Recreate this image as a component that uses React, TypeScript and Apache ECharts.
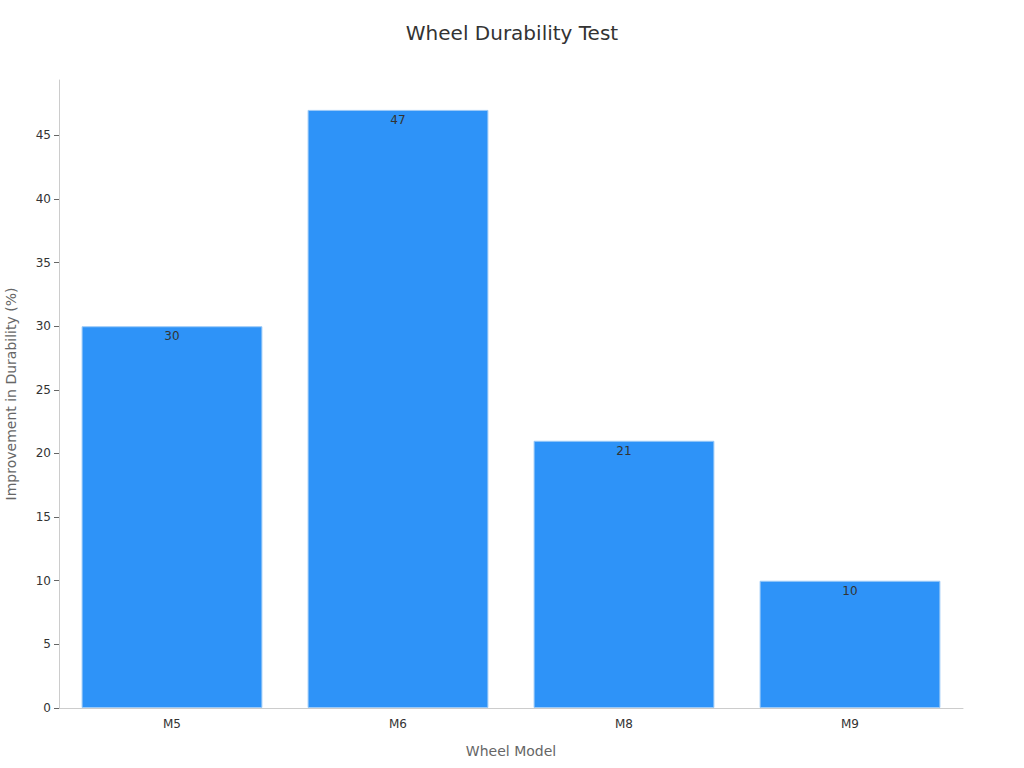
import { useEffect, useRef } from "react";
import * as echarts from "echarts";

const categories = ["M5", "M6", "M8", "M9"];
const improvement = [30, 47, 21, 10];
const yTicks = [0, 5, 10, 15, 20, 25, 30, 35, 40, 45];

const FONT = "'DejaVu Sans', sans-serif";

export default function App() {
  const ref = useRef<HTMLDivElement | null>(null);

  useEffect(() => {
    if (!ref.current) return;
    const chart = echarts.init(ref.current, null, { renderer: "svg" });

    chart.setOption({
      animation: false,
      textStyle: { fontFamily: FONT },
      title: {
        text: "Wheel Durability Test",
        left: "center",
        top: 18,
        textStyle: { fontFamily: FONT, fontSize: 20, fontWeight: "normal", color: "#333" },
      },
      grid: { left: 59, right: 61, top: 80, bottom: 60, outerBoundsMode: "none", containLabel: false },
      xAxis: {
        type: "category",
        data: categories,
        name: "Wheel Model",
        nameLocation: "middle",
        nameGap: 36,
        nameTextStyle: { fontFamily: FONT, fontSize: 14, color: "#666" },
        axisLine: { lineStyle: { color: "#ccc" } },
        axisTick: { alignWithLabel: true, length: 5, lineStyle: { color: "#999" } },
        axisLabel: { fontFamily: FONT, fontSize: 12, color: "#333", margin: 10 },
      },
      yAxis: {
        type: "value",
        min: 0,
        max: Math.max(...improvement) * 1.05,
        interval: 5,
        name: "Improvement in Durability (%)",
        nameLocation: "middle",
        nameGap: 41,
        nameTextStyle: { fontFamily: FONT, fontSize: 14, color: "#666" },
        axisLine: { show: true, lineStyle: { color: "#ccc" } },
        axisTick: { show: true, length: 5, lineStyle: { color: "#666" }, customValues: yTicks },
        axisLabel: { fontFamily: FONT, fontSize: 12, color: "#333", margin: 8, customValues: yTicks },
        splitLine: { show: false },
      },
      series: [
        {
          type: "bar",
          data: improvement,
          barWidth: "80%",
          itemStyle: { color: "#2E93F8", borderColor: "#9ccaf7", borderWidth: 1 },
          label: {
            show: true,
            position: "insideTop",
            distance: 4,
            color: "#333",
            fontFamily: FONT,
            fontSize: 12,
          },
        },
      ],
    });

    return () => chart.dispose();
  }, []);

  return (
    <div
      ref={ref}
      style={{ position: "absolute", left: 0, top: 0, width: 1024, height: 768 }}
    />
  );
}
